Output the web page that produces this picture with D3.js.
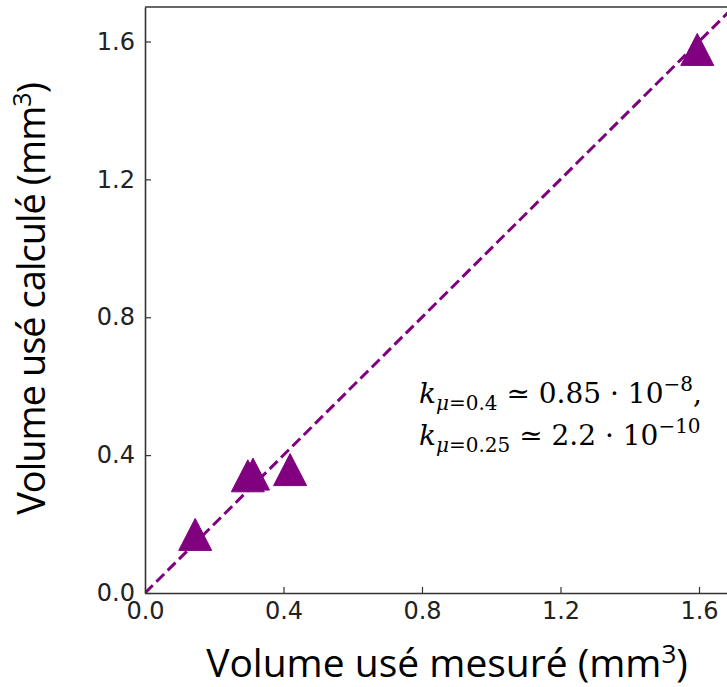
<!DOCTYPE html>
<html>
<head>
<meta charset="utf-8">
<script src="https://cdn.jsdelivr.net/npm/d3@7"></script>
<style>
  html, body { margin: 0; padding: 0; background: #fff; }
  svg { display: block; }
</style>
</head>
<body>
<svg id="chart" width="727" height="687"></svg>
<script>
// ---- data ----
const measured   = [0.145, 0.297, 0.312, 0.419, 1.595];
const calculated = [0.170, 0.340, 0.345, 0.358, 1.577];
const xTicks = [0.0, 0.4, 0.8, 1.2, 1.6];
const yTicks = [0.0, 0.4, 0.8, 1.2, 1.6];
const fitLine = [0, 1.7];

const color = "#800080";
const svg = d3.select("#chart");

const x = d3.scaleLinear().domain([0, 1.7]).range([145, 145 + 1.7 * 346.25]);
const y = d3.scaleLinear().domain([0, 1.7]).range([593, 7]);

svg.append("defs").append("clipPath").attr("id", "plotclip")
  .append("rect").attr("x", x(0)).attr("y", y(1.7))
  .attr("width", x(1.7) - x(0)).attr("height", y(0) - y(1.7));

const plot = svg.append("g").attr("clip-path", "url(#plotclip)");

// dashed y = x line
plot.append("line")
  .attr("x1", x(fitLine[0])).attr("y1", y(fitLine[0]))
  .attr("x2", x(fitLine[1])).attr("y2", y(fitLine[1]))
  .attr("stroke", color).attr("stroke-width", 3)
  .attr("stroke-dasharray", "11,5");

// triangles
const hw = 16.5, hh = 16;
const tri = `M0,${-hh}L${hw},${hh}L${-hw},${hh}Z`;
plot.selectAll("path.pt").data(measured.map((m, i) => [m, calculated[i]]))
  .join("path").attr("class", "pt")
  .attr("d", tri)
  .attr("transform", d => `translate(${x(d[0])},${y(d[1])})`)
  .attr("fill", color).attr("stroke", color).attr("stroke-width", 1);

// axes
const axisColor = "#333";
const xAxis = svg.append("g").attr("transform", `translate(0,${y(0)})`)
  .call(d3.axisBottom(x).tickValues(xTicks).tickFormat(d3.format(".1f")).tickSizeInner(-6).tickSizeOuter(0).tickPadding(10));
const yAxis = svg.append("g").attr("transform", `translate(${x(0)},0)`)
  .call(d3.axisLeft(y).tickValues(yTicks).tickFormat(d3.format(".1f")).tickSizeInner(-6).tickSizeOuter(0).tickPadding(10));
[xAxis, yAxis].forEach(g => {
  g.attr("font-size", null).attr("font-family", null);
  g.select(".domain").attr("stroke", axisColor).attr("stroke-width", 1.6);
  g.selectAll(".tick line").attr("stroke", axisColor).attr("stroke-width", 1.2);
  g.selectAll(".tick text").attr("fill", "#222")
    .style("font-family", "'DejaVu Sans', sans-serif").style("font-size", "24px");
});
xAxis.selectAll(".tick text").attr("dy", "0.71em").attr("y", 9);
yAxis.selectAll(".tick text").attr("x", -10);

// top border
svg.append("line").attr("x1", x(0)).attr("x2", x(1.7)).attr("y1", y(1.7)).attr("y2", y(1.7))
  .attr("stroke", axisColor).attr("stroke-width", 1.6);

// axis titles
const titleFont = "'Open Sans', sans-serif";
const xt = svg.append("text").attr("x", 447).attr("y", 677).attr("text-anchor", "middle")
  .style("font-family", titleFont).style("font-size", "39px").attr("fill", "#000");
xt.append("tspan").text("Volume usé mesuré (mm");
xt.append("tspan").text("3").style("font-size", "26px").attr("dy", -14);
xt.append("tspan").text(")").attr("dy", 14);

const yt = svg.append("text").attr("transform", "translate(45,299) rotate(-90)").attr("text-anchor", "middle")
  .style("font-family", titleFont).style("font-size", "38px").style("letter-spacing", "-1px").attr("fill", "#000");
yt.append("tspan").text("Volume usé calculé (mm");
yt.append("tspan").text("3").style("font-size", "25px").attr("dy", -14);
yt.append("tspan").text(")").attr("dy", 14);

// annotation
const mathFont = "'DejaVu Serif', 'Liberation Serif', serif";
function eq(xp, yp, sub, val, exp, tail) {
  const t = svg.append("text").attr("x", xp).attr("y", yp)
    .style("font-family", mathFont).style("font-size", "28px").attr("fill", "#000");
  t.append("tspan").text("k").style("font-style", "italic");
  t.append("tspan").text("μ").style("font-style", "italic").style("font-size", "20px").attr("dy", 7);
  t.append("tspan").text(sub).style("font-size", "20px");
  t.append("tspan").text(" ≃ " + val + " · 10").attr("dy", -7);
  t.append("tspan").text(exp).style("font-size", "20px").attr("dy", -12);
  if (tail) t.append("tspan").text(tail).attr("dy", 12);
  return t;
}
eq(419, 403, "=0.4", "0.85", "−8", ",");
eq(419, 445, "=0.25", "2.2", "−10", null);
</script>
</body>
</html>
